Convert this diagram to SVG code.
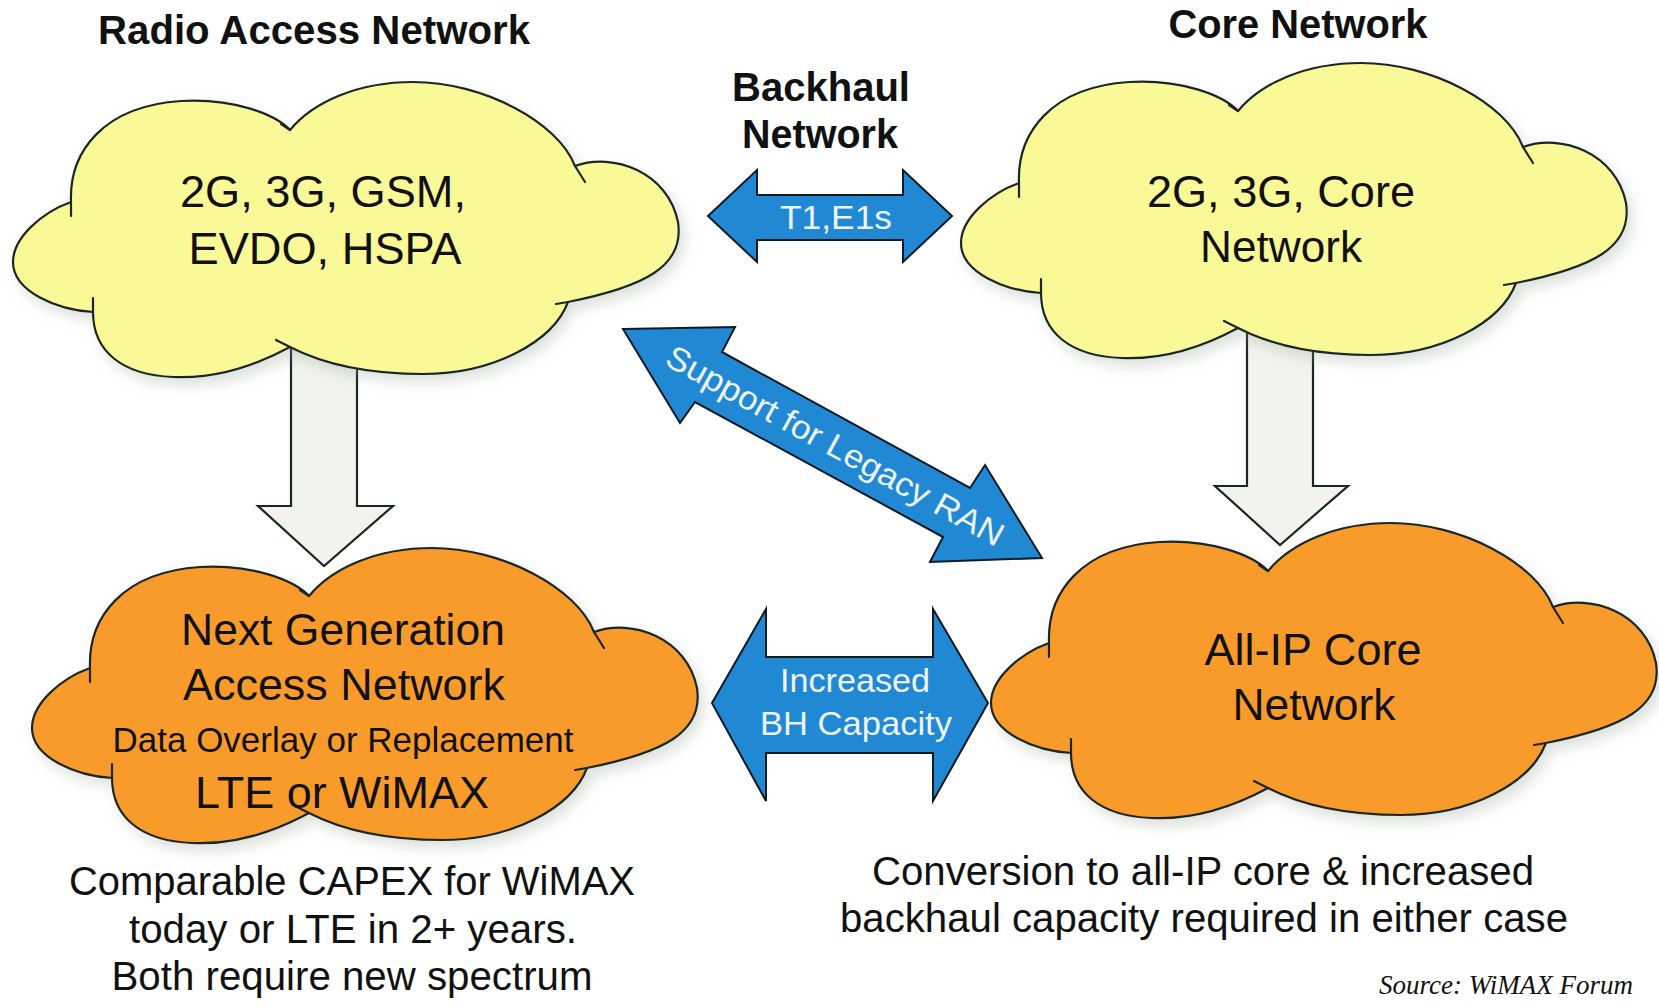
<svg xmlns="http://www.w3.org/2000/svg" width="1659" height="1007" viewBox="0 0 1659 1007">
  <style>
    .title { font-family: "Liberation Sans", Arial, sans-serif; font-weight: bold; font-size: 40px; fill: #111; text-anchor: middle; }
    .cloudtxt { font-family: "Liberation Sans", Arial, sans-serif; font-size: 44px; fill: #111; text-anchor: middle; }
    .small { font-size: 35px; }
    .arrowtxt { font-family: "Liberation Sans", Arial, sans-serif; font-size: 33px; fill: #eef4fb; text-anchor: middle; }
    .note { font-family: "Liberation Sans", Arial, sans-serif; font-size: 40px; fill: #111; text-anchor: middle; }
    .source { font-family: "Liberation Serif", "Times New Roman", serif; font-style: italic; font-size: 27px; fill: #111; }
    .cloud { stroke: #1b2626; stroke-width: 2.2; stroke-linejoin: round; }
    .yellow { fill: #f9f998; }
    .orange { fill: #f99b2c; }
    .notch { fill: none; stroke: #1b2626; stroke-width: 2.2; stroke-linecap: round; }
    .grey { fill: #f2f3ec; stroke: #1b2626; stroke-width: 2.2; stroke-linejoin: miter; }
    .blue { fill: #2189d4; stroke: #0e1a22; stroke-width: 2; stroke-linejoin: miter; }
  </style>
  <defs>
    <filter id="shade" x="-10%" y="-10%" width="125%" height="130%">
      <feDropShadow dx="5" dy="7" stdDeviation="7" flood-color="#8c9a84" flood-opacity="0.3"/>
    </filter>
    <!-- generic cloud outline in local coordinates (about 668 x 296) -->
    <path id="cloudShape" d="M58,120 C56,70 90,24 168,19 C220,16 262,32 277,48 C300,20 345,0 400,0 C470,0 545,40 562,84 C600,70 655,90 665,140 C672,185 630,205 555,220 C540,260 480,292 410,292 C355,292 310,282 277,265 C240,285 200,297 160,295 C110,293 80,270 80,230 C45,228 0,210 0,180 C0,155 30,130 58,120 Z"/>
    <path id="cloudNotches" d="M58,120 L58,134 M277,48 L268,42 M562,84 L572,100 M555,220 L543,222 M277,265 L263,258 M80,230 L80,216"/>
  </defs>

  <rect width="1659" height="1007" fill="#ffffff"/>

  <!-- headings -->
  <text class="title" x="314" y="44" textLength="432" lengthAdjust="spacingAndGlyphs">Radio Access Network</text>
  <text class="title" x="1298" y="38" textLength="259" lengthAdjust="spacingAndGlyphs">Core Network</text>
  <text class="title" x="821" y="101" textLength="178" lengthAdjust="spacingAndGlyphs">Backhaul</text>
  <text class="title" x="820" y="148" textLength="156" lengthAdjust="spacingAndGlyphs">Network</text>

  <!-- connectors -->
  <g id="connectors">
    <!-- migration arrows -->
    <polygon class="grey" points="291,345 357,345 357,506 393,506 324,566 258,506 291,506"/>
    <polygon class="grey" points="1247,330 1313,330 1313,486 1348,486 1280,545 1215,486 1247,486"/>

    <!-- backhaul T1/E1 link -->
    <g id="link-t1e1">
      <polygon class="blue" points="708,216 757,170 757,195 903,195 903,170 952,216 903,262 903,240 757,240 757,262"/>
      <text class="arrowtxt" x="836" y="229" font-size="30" textLength="112" lengthAdjust="spacingAndGlyphs">T1,E1s</text>
    </g>

    <!-- legacy RAN support -->
    <g id="link-legacy">
      <polygon class="blue" points="623,329 735,327 722,352 970,488 985,465 1042,558 930,562 943,537 695,402 680,423"/>
      <text class="arrowtxt" transform="translate(835,446) rotate(28.8)" x="0" y="11" textLength="380" lengthAdjust="spacingAndGlyphs">Support for Legacy RAN</text>
    </g>

    <!-- increased backhaul capacity -->
    <g id="link-capacity">
      <polygon class="blue" points="712,703 766,609 766,657 933,657 933,609 988,703 933,801 933,753 766,753 766,801"/>
      <text class="arrowtxt" x="855" y="692" textLength="150" lengthAdjust="spacingAndGlyphs">Increased</text>
      <text class="arrowtxt" x="856" y="735" textLength="192" lengthAdjust="spacingAndGlyphs">BH Capacity</text>
    </g>
  </g>

  <!-- legacy radio access network -->
  <g id="node-ran" transform="translate(13,82)">
    <use href="#cloudShape" class="cloud yellow" filter="url(#shade)"/>
    <use href="#cloudNotches" class="notch"/>
  </g>
  <g id="node-ran-label">
    <text class="cloudtxt" x="323" y="207" textLength="286" lengthAdjust="spacingAndGlyphs">2G, 3G, GSM,</text>
    <text class="cloudtxt" x="325" y="264" textLength="273" lengthAdjust="spacingAndGlyphs">EVDO, HSPA</text>
  </g>

  <!-- legacy core network -->
  <g id="node-core" transform="translate(961,63)">
    <use href="#cloudShape" class="cloud yellow" filter="url(#shade)"/>
    <use href="#cloudNotches" class="notch"/>
  </g>
  <g id="node-core-label">
    <text class="cloudtxt" x="1281" y="207" textLength="268" lengthAdjust="spacingAndGlyphs">2G, 3G, Core</text>
    <text class="cloudtxt" x="1281" y="262" textLength="162" lengthAdjust="spacingAndGlyphs">Network</text>
  </g>

  <!-- next generation access network -->
  <g id="node-nextgen" transform="translate(32,548)">
    <use href="#cloudShape" class="cloud orange" filter="url(#shade)"/>
    <use href="#cloudNotches" class="notch"/>
  </g>
  <g id="node-nextgen-label">
    <text class="cloudtxt" x="343" y="645" textLength="324" lengthAdjust="spacingAndGlyphs">Next Generation</text>
    <text class="cloudtxt" x="344" y="700" textLength="322" lengthAdjust="spacingAndGlyphs">Access Network</text>
    <text class="cloudtxt small" x="343" y="752" textLength="461" lengthAdjust="spacingAndGlyphs">Data Overlay or Replacement</text>
    <text class="cloudtxt" x="342" y="808" textLength="294" lengthAdjust="spacingAndGlyphs">LTE or WiMAX</text>
  </g>

  <!-- all-IP core network -->
  <g id="node-allip" transform="translate(991,523)">
    <use href="#cloudShape" class="cloud orange" filter="url(#shade)"/>
    <use href="#cloudNotches" class="notch"/>
  </g>
  <g id="node-allip-label">
    <text class="cloudtxt" x="1313" y="665" textLength="217" lengthAdjust="spacingAndGlyphs">All-IP Core</text>
    <text class="cloudtxt" x="1314" y="720" textLength="163" lengthAdjust="spacingAndGlyphs">Network</text>
  </g>

  <!-- notes -->
  <text class="note" x="352" y="895" textLength="566" lengthAdjust="spacingAndGlyphs">Comparable CAPEX for WiMAX</text>
  <text class="note" x="353" y="943" textLength="448" lengthAdjust="spacingAndGlyphs">today or LTE in 2+ years.</text>
  <text class="note" x="352" y="990" textLength="481" lengthAdjust="spacingAndGlyphs">Both require new spectrum</text>
  <text class="note" x="1203" y="885" textLength="662" lengthAdjust="spacingAndGlyphs">Conversion to all-IP core &amp; increased</text>
  <text class="note" x="1204" y="932" textLength="728" lengthAdjust="spacingAndGlyphs">backhaul capacity required in either case</text>
  <text class="source" x="1379" y="994" textLength="254" lengthAdjust="spacingAndGlyphs">Source: WiMAX Forum</text>
</svg>
